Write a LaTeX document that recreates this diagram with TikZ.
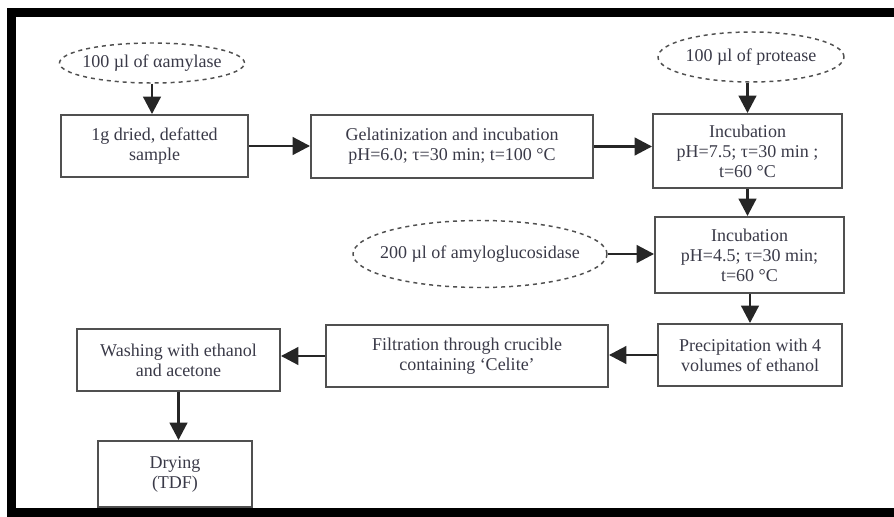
\documentclass[tikz,border=0pt]{standalone}
\usepackage{fontspec}
\setmainfont{Liberation Serif}
\usetikzlibrary{shapes.geometric,arrows.meta}
\definecolor{txt}{HTML}{3A3A48}
\definecolor{edge}{HTML}{505050}
\tikzset{
  box/.style={draw=edge,line width=1.4pt,rectangle,align=center,text=txt,font=\fontsize{13.5}{15}\selectfont,inner sep=0pt},
  ell/.style={draw=edge,dashed,line width=1.1pt,ellipse,inner sep=0pt,
    label={[text=txt,font=\fontsize{13.5}{15}\selectfont,inner sep=0pt]center:#1}},
  arr/.style={line width=2.2pt,draw=black!85,-{Triangle[length=13pt,width=13pt]}},
  frame/.style={line width=7pt,draw=black}
}
\begin{document}
\begin{tikzpicture}[x=0.75pt,y=-0.75pt]
\useasboundingbox (0,0) rectangle (894,517);
\fill[white] (0,0) rectangle (894,517);
% frame
\coordinate (ftl) at (11.5,12.5);
\coordinate (ftr) at (894,12.5);
\coordinate (fbl) at (11.5,512.5);
\coordinate (fbr) at (894,512.5);
\draw[frame] (ftr) -- (ftl) -- (fbl) -- (fbr);
% nodes
\node[ell={100 µl of αamylase},minimum width=185*0.75pt,minimum height=40*0.75pt] (e1) at (152,63) {};
\node[ell={100 µl of protease},minimum width=186*0.75pt,minimum height=50*0.75pt] (e2) at (751,57) {};
\node[ell={200 µl of amyloglucosidase},minimum width=254*0.75pt,minimum height=67*0.75pt] (e3) at (480,254) {};
\node[box,minimum width=187*0.75pt,minimum height=62*0.75pt] (b1) at (154.5,146) {1g dried, defatted\\sample};
\node[box,minimum width=282*0.75pt,minimum height=63*0.75pt] (b2) at (452,146.5) {Gelatinization and incubation\\pH=6.0; τ=30 min; t=100 °C};
\node[box,minimum width=189*0.75pt,minimum height=74*0.75pt] (b3) at (747.5,151) {Incubation\\pH=7.5; τ=30 min ;\\t=60 °C};
\node[box,minimum width=189*0.75pt,minimum height=76*0.75pt] (b4) at (749.5,255) {Incubation\\pH=4.5; τ=30 min;\\t=60 °C};
\node[box,minimum width=184*0.75pt,minimum height=62*0.75pt] (b5) at (750,355) {Precipitation with 4\\volumes of ethanol};
\node[box,minimum width=282*0.75pt,minimum height=62*0.75pt] (b6) at (467,356) {Filtration through crucible\\containing ‘Celite’};
\node[box,minimum width=203*0.75pt,minimum height=62*0.75pt] (b7) at (178.5,360) {Washing with ethanol\\and acetone};
\node[box,minimum width=154*0.75pt,minimum height=66*0.75pt] (b8) at (175,474) {Drying\\(TDF)};
% connectors
\draw[arr] (e1.south) -- (e1.south |- b1.north);
\draw[arr] (b1.east) -- (b2.west |- b1.east);
\draw[arr] (b2.east) -- (b3.west |- b2.east);
\draw[arr] (e2.south -| b3.north) -- (b3.north);
\draw[arr] (b3.south) -- (b3.south |- b4.north);
\draw[arr] (e3.east) -- (b4.west |- e3.east);
\draw[arr] (b4.south -| b5.north) -- (b5.north);
\draw[arr] (b5.west) -- (b6.east |- b5.west);
\draw[arr] (b6.west) -- (b7.east |- b6.west);
\draw[arr] (b7.south) -- (b7.south |- b8.north);
\end{tikzpicture}
\end{document}
